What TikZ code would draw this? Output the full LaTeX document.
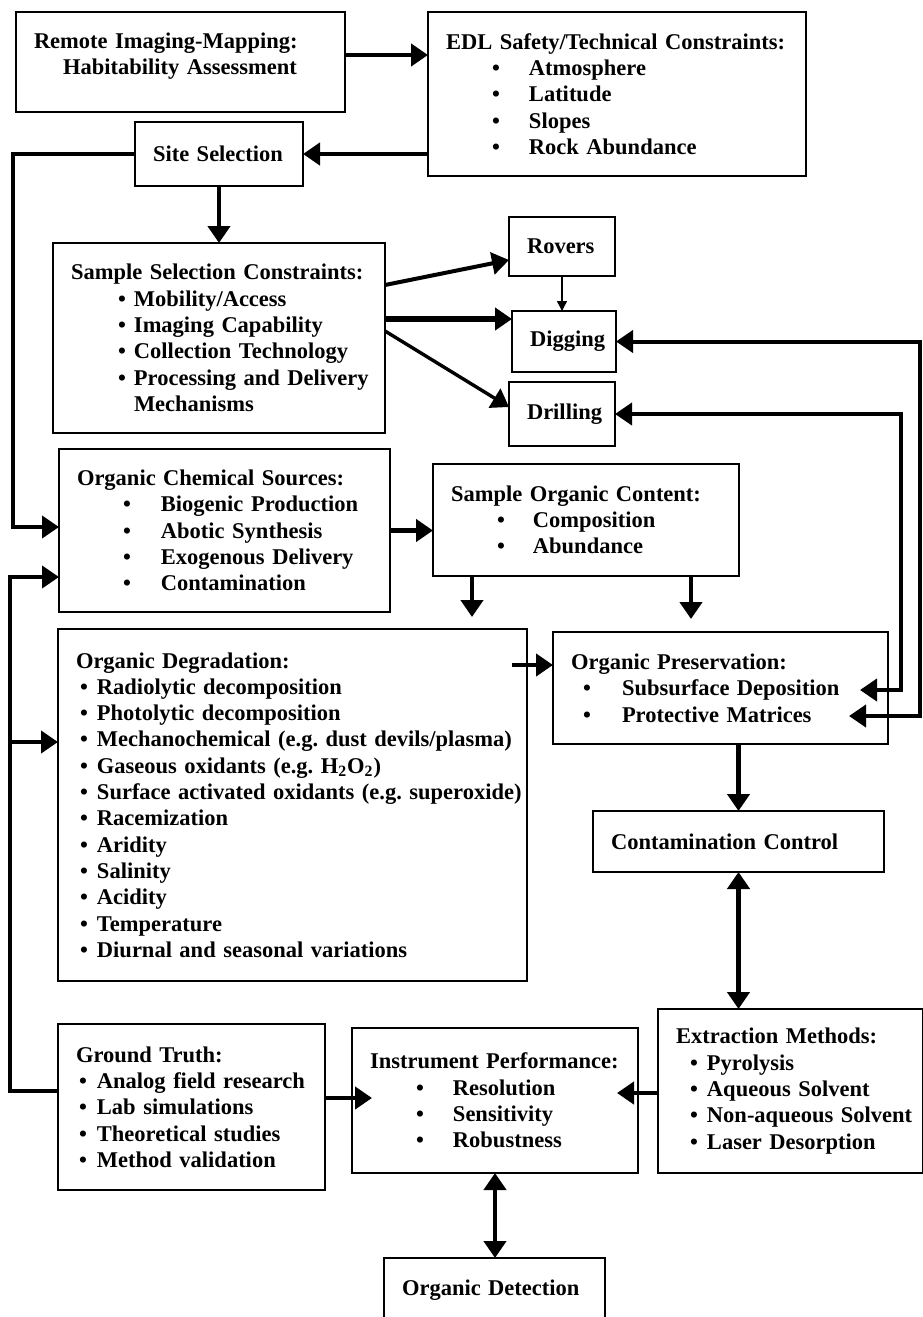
\documentclass[tikz,border=0pt]{standalone}
\usepackage{fontspec}
\setmainfont{Liberation Serif}
\usetikzlibrary{arrows.meta}
\frenchspacing
\newcommand{\hd}[1]{\mbox{#1}}
\newcommand{\bul}[3]{\hspace*{#1}\makebox[#2][l]{\textbullet}\mbox{#3}}
\newcommand{\wbul}[1]{\bul{23pt}{18.5pt}{#1}}
\newcommand{\nbul}[1]{\bul{2pt}{8.5pt}{#1}}
\tikzset{box/.style={draw,line width=0.9pt,anchor=north west,align=left,
inner xsep=9pt,inner ysep=0pt,outer sep=0pt,
font=\bfseries\fontsize{11.25pt}{13.15pt}\selectfont},
conn/.style={line width=2.2pt,-{Triangle[length=8.5pt,width=11pt]}},
dconn/.style={line width=2.2pt,{Triangle[length=8.5pt,width=11pt]}-{Triangle[length=8.5pt,width=11pt]}},
fine/.style={line width=0.7pt,-{Triangle[length=5pt,width=5pt]}}}
\begin{document}
\begin{tikzpicture}[x=0.5pt,y=-0.5pt]
\useasboundingbox (0,0) rectangle (922,1317);
% boxes
\node[box,text width=146.5pt,minimum height=50pt] (rem) at (16,12)
{\hd{Remote Imaging-Mapping:}\\\hspace*{14.5pt}\hd{Habitability Assessment}\rule[-8pt]{0pt}{8pt}};
\node[box,text width=171pt,minimum height=82pt] (edl) at (428,12)
{\hd{EDL Safety/Technical Constraints:}\\\wbul{Atmosphere}\\\wbul{Latitude}\\\wbul{Slopes}\\\wbul{Rock Abundance}};
\node[box,text width=66pt,minimum height=32pt] (site) at (135,122) {\hd{Site Selection}};
\node[box,text width=148pt,minimum height=95pt] (ssc) at (53,243)
{\hd{Sample Selection Constraints:}\\\bul{23.5pt}{8pt}{Mobility/Access}\\\bul{23.5pt}{8pt}{Imaging Capability}\\
\bul{23.5pt}{8pt}{Collection Technology}\\\bul{23.5pt}{8pt}{Processing and Delivery}\\\hspace*{31.5pt}\hd{Mechanisms}};
\node[box,text width=35pt,minimum height=29.5pt] (rov) at (509,217) {\hd{Rovers}};
\node[box,text width=34pt,minimum height=30.5pt] (dig) at (512,311) {\hd{Digging}};
\node[box,text width=35pt,minimum height=32pt] (dri) at (509,382) {\hd{Drilling}};
\node[box,text width=147.5pt,minimum height=81.5pt] (ocs) at (59,449)
{\hd{Organic Chemical Sources:}\\\bul{23pt}{19pt}{Biogenic Production}\\\bul{23pt}{19pt}{Abotic Synthesis}\\
\bul{23pt}{19pt}{Exogenous Delivery}\\\bul{23pt}{19pt}{Contamination}};
\node[box,text width=135pt,minimum height=56pt] (soc) at (433,464)
{\hd{Sample Organic Content:}\\\bul{23pt}{18pt}{Composition}\\\bul{23pt}{18pt}{Abundance}};
\node[box,text width=216.5pt,minimum height=176pt] (od) at (58,629)
{\hd{Organic Degradation:}\\\nbul{Radiolytic decomposition}\\\nbul{Photolytic decomposition}\\
\nbul{Mechanochemical (e.g. dust devils/plasma)}\\\nbul{Gaseous oxidants (e.g. H\textsubscript{2}O\textsubscript{2})}\\
\nbul{Surface activated oxidants (e.g. superoxide)}\\\nbul{Racemization}\\\nbul{Aridity}\\\nbul{Salinity}\\
\nbul{Acidity}\\\nbul{Temperature}\\\nbul{Diurnal and seasonal variations}};
\node[box,text width=149.5pt,minimum height=56pt] (op) at (553,632)
{\hd{Organic Preservation:}\\\bul{6pt}{19.5pt}{Subsurface Deposition}\\\bul{6pt}{19.5pt}{Protective Matrices}};
\node[box,text width=127.5pt,minimum height=30.5pt] (cc) at (593,811) {\hd{Contamination Control}};
\node[box,text width=114.5pt,minimum height=82pt] (em) at (658,1009)
{\hd{Extraction Methods:}\\\bul{7pt}{8.5pt}{Pyrolysis}\\\bul{7pt}{8.5pt}{Aqueous Solvent}\\
\bul{7pt}{8.5pt}{Non-aqueous Solvent}\\\bul{7pt}{8.5pt}{Laser Desorption}};
\node[box,text width=115.5pt,minimum height=83pt] (gt) at (58,1024)
{\hd{Ground Truth:}\\\bul{1.5pt}{9pt}{Analog field research}\\\bul{1.5pt}{9pt}{Lab simulations}\\
\bul{1.5pt}{9pt}{Theoretical studies}\\\bul{1.5pt}{9pt}{Method validation}};
\node[box,text width=125pt,minimum height=72.5pt] (ip) at (352,1028)
{\hd{Instrument Performance:}\\\wbul{Resolution}\\\wbul{Sensitivity}\\\wbul{Robustness}};
\node[box,text width=92.5pt,minimum height=32pt] (odet) at (384,1258) {\hd{Organic Detection}};

\coordinate (rl1) at (13,0);
\coordinate (rl2) at (10,0);
\coordinate (rr1) at (920,0);
\coordinate (rr2) at (901,0);
\coordinate (sdep) at (860,690);
\coordinate (pmat) at (849,716);

% top row
\draw[conn] (rem.east |- 0,55) -- (edl.west |- 0,55);
\draw[conn] (edl.west |- site.east) -- (site.east);
\draw[conn,line width=2pt] (site.west) -| (rl1 |- 0,527) -- (ocs.west |- 0,527);
\draw[conn] (site.south) -- (site.south |- ssc.north);
% sampling tools
\draw[conn,line width=2pt] (ssc.east |- 0,285) -- (rov.west |- 0,260);
\draw[conn,line width=2.6pt] (ssc.east |- 0,319) -- (dig.west |- 0,319);
\draw[conn,line width=1.7pt] (ssc.east |- 0,331) -- (dri.west |- 0,407);
\draw[fine] (rov.south) -- (rov.south |- dig.north);
\draw[dconn,line width=2pt] (dig.east) -| (rr1 |- pmat) -- (pmat);
\draw[dconn,line width=2pt] (dri.east) -| (rr2 |- sdep) -- (sdep);
% organics
\draw[conn] (ocs.east) -- (ocs.east -| soc.west);
\draw[conn,shorten >=6pt] (soc.south -| 472,0) -- (od.north -| 472,0);
\draw[conn,shorten >=6.5pt] (soc.south -| 691,0) -- (op.north -| 691,0);
\draw[conn,shorten <=-7.5pt] (od.east |- 0,665) -- (op.west |- 0,665);
\draw[conn] (cc.north |- op.south) -- (cc.north);
\draw[dconn] (cc.south) -- (cc.south |- em.north);
% bottom row
\draw[conn,shorten >=-10.5pt] (em.west |- 0,1093) -- (ip.east |- 0,1093);
\draw[conn,shorten >=-10pt] (gt.east |- 0,1098) -- (ip.west |- 0,1098);
\draw[dconn] (ip.south) -- (ip.south |- odet.north);
\draw[conn,line width=2pt] (gt.west |- 0,1091) -| (rl2 |- 0,577) -- (ocs.west |- 0,577);
\draw[conn,line width=2pt] (rl2 |- 0,742) -- (od.west |- 0,742);
\end{tikzpicture}
\end{document}
